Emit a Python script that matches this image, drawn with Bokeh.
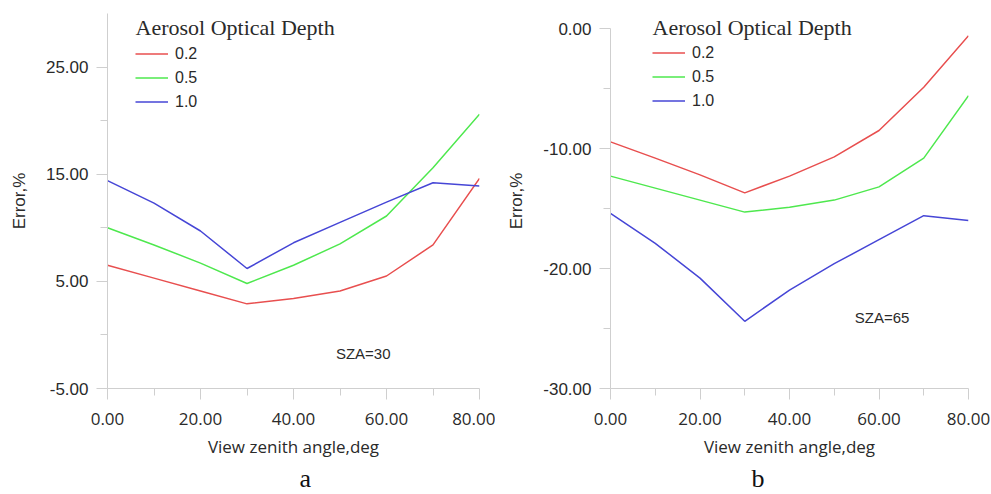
from bokeh.plotting import figure
from bokeh.layouts import row
from bokeh.models import (Legend, LegendItem, FixedTicker, PrintfTickFormatter, Label, Range1d, Title)
from bokeh.embed import file_html
from bokeh.resources import INLINE

# ---------------- data ----------------
vza = [0, 10, 20, 30, 40, 50, 60, 70, 80]

# panel a (SZA=30)
a_aod02 = [6.5, 5.3, 4.1, 2.9, 3.4, 4.1, 5.5, 8.4, 14.6]
a_aod05 = [10.0, 8.4, 6.7, 4.8, 6.5, 8.5, 11.1, 15.6, 20.6]
a_aod10 = [14.4, 12.3, 9.7, 6.2, 8.6, 10.5, 12.4, 14.2, 13.9]

# panel b (SZA=65)
b_aod02 = [-9.45, -10.8, -12.2, -13.7, -12.3, -10.7, -8.5, -4.9, -0.6]
b_aod05 = [-12.3, -13.3, -14.3, -15.3, -14.9, -14.3, -13.2, -10.8, -5.6]
b_aod10 = [-15.4, -17.9, -20.8, -24.4, -21.8, -19.6, -17.6, -15.6, -16.0]

series_labels = ["0.2", "0.5", "1.0"]
legend_title = "Aerosol Optical Depth"
x_ticks = [0, 20, 40, 60, 80]
x_minor = [10, 30, 50, 70]
a_yticks = [-5, 5, 15, 25]
a_yminor = [0, 10, 20]
a_ybounds = (-5, 30)
b_yticks = [-30, -20, -10, 0]
b_yminor = [-25, -15, -5]
b_ybounds = (-30, 0)

COLORS = ["#e84f4f", "#4ee84e", "#4646d6"]
AXIS_GREY = "#cfcfcf"
TXT = "#2a2a2a"


def make_panel(width, yr, ybounds, yticks, yminor, series, border, sza_text, sza_pos,
               legend_loc, title_pos, panel_letter, letter_offset):
    p = figure(width=width, height=494, output_backend="svg", toolbar_location=None,
               x_range=Range1d(0, 80), y_range=Range1d(*yr), title=None)
    p.min_border_left, p.min_border_right, p.min_border_top, p.min_border_bottom = border
    p.outline_line_color = None
    p.grid.visible = False
    p.background_fill_color = "white"
    p.border_fill_color = "white"

    renderers = []
    for vals, c in zip(series, COLORS):
        r = p.line(vza, vals, line_color=c, line_width=1.5)
        renderers.append(r)

    for ax in (p.xaxis[0], p.yaxis[0]):
        ax.axis_line_color = AXIS_GREY
        ax.major_tick_line_color = AXIS_GREY
        ax.minor_tick_line_color = AXIS_GREY
        ax.major_tick_in = 0
        ax.major_tick_out = 11
        ax.minor_tick_in = 0
        ax.minor_tick_out = 7
        ax.major_label_text_color = TXT
        ax.axis_label_text_color = TXT
        ax.axis_label_text_font_style = "normal"
        ax.formatter = PrintfTickFormatter(format="%.2f")

    p.xaxis.ticker = FixedTicker(ticks=x_ticks, minor_ticks=x_minor)
    p.yaxis.ticker = FixedTicker(ticks=yticks, minor_ticks=yminor)
    p.yaxis.bounds = ybounds
    p.xaxis.major_label_text_font = "Open Sans"
    p.xaxis.major_label_text_font_size = "17px"
    p.xaxis.major_label_standoff = 13
    p.xaxis.axis_label = "View zenith angle,deg"
    p.xaxis.axis_label_text_font = "Open Sans"
    p.xaxis.axis_label_text_font_size = "17px"
    p.xaxis.axis_label_standoff = 7

    p.yaxis.major_label_text_font = "Liberation Sans"
    p.yaxis.major_label_text_font_size = "17px"
    p.yaxis.major_label_standoff = 8
    p.yaxis.axis_label = "Error,%"
    p.yaxis.axis_label_text_font = "Liberation Sans"
    p.yaxis.axis_label_text_font_size = "17px"
    p.yaxis.axis_label_standoff = 14

    legend = Legend(
        items=[LegendItem(label=l, renderers=[r]) for l, r in zip(series_labels, renderers)],
        location=legend_loc,
        label_text_font="Liberation Sans", label_text_font_size="16px",
        label_text_color=TXT, glyph_width=33, glyph_height=21, label_height=21,
        label_standoff=7, spacing=3, padding=0, margin=0,
        border_line_color=None, background_fill_alpha=0,
    )
    p.add_layout(legend, "center")
    p.add_layout(Label(x=title_pos[0], y=title_pos[1], x_units="screen", y_units="screen",
                       text=legend_title, text_font="Liberation Serif", text_font_size="22px",
                       text_color=TXT, text_align="left", text_baseline="middle"))

    p.add_layout(Label(x=sza_pos[0], y=sza_pos[1], text=sza_text, text_font="Liberation Sans",
                       text_font_size="15px", text_color=TXT, text_align="center",
                       text_baseline="middle"))
    letter = Title(text=panel_letter, text_font="Liberation Serif", text_font_size="26px",
                   text_color="#111111", text_font_style="normal", align="left",
                   offset=letter_offset, standoff=3)
    p.add_layout(letter, "below")
    return p


pa = make_panel(495, (-5, 30), a_ybounds, a_yticks, a_yminor, [a_aod02, a_aod05, a_aod10],
                (107, 16, 13, 106), "SZA=30", (55, -1.7), (28, 276), (28, 361), "a", 192)
pb = make_panel(496, (-30, 1.25), b_ybounds, b_yticks, b_yminor, [b_aod02, b_aod05, b_aod10],
                (115, 23, 13, 106), "SZA=65", (60.7, -24.1), (42, 277), (42, 361), "b", 141)

layout = row(pa, pb)
open("out.html", "w").write(file_html(layout, INLINE))
